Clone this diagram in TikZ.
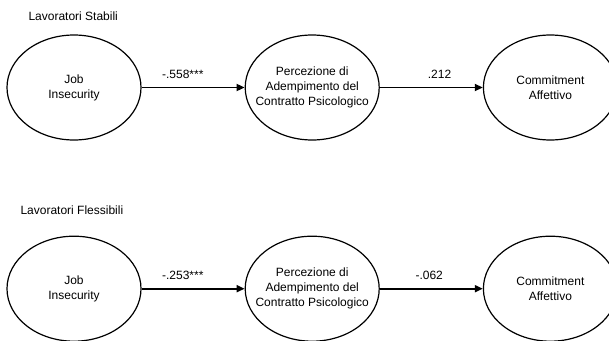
\documentclass[tikz,border=0pt]{standalone}
\usepackage{fontspec}
\setmainfont{Liberation Sans}
\usetikzlibrary{arrows.meta, positioning, shapes.geometric}

\begin{document}
\begin{tikzpicture}[
    x=1pt, y=-1pt,
    node distance=95pt and 103pt,
    >={Triangle[length=8pt, width=7pt]},
    every node/.style={font=\fontsize{12}{15}\selectfont},
    var/.style={ellipse, draw, line width=1.2pt, minimum width=134pt, minimum height=105pt, inner sep=0pt},
    vartext/.style={align=center},
    link/.style={->, line width=1.8pt},
    coef/.style={above=5pt},
    grouplabel/.style={anchor=west}
  ]
  \useasboundingbox (0,0) rectangle (609,340);

  % lavoratori stabili
  \node[grouplabel] (stab) at (25,16) {Lavoratori Stabili};
  \node[var, label={[vartext]center:Job\\Insecurity}] (ji1) at (74,87.5) {};
  \node[var, right=of ji1, label={[vartext]center:Percezione di\\Adempimento del\\Contratto Psicologico}] (pcp1) {};
  \node[var, right=of pcp1, label={[vartext]center:Commitment\\Affettivo}] (ca1) {};

  \draw[link] (ji1) -- node[coef, pos=0.4] {-.558***} (pcp1);
  \draw[link] (pcp1) -- node[coef, pos=0.58] {.212} (ca1);

  % lavoratori flessibili
  \node[grouplabel] (fles) at (17,210) {Lavoratori Flessibili};
  \node[var, below=of ji1, label={[vartext]center:Job\\Insecurity}] (ji2) {};
  \node[var, right=of ji2, label={[vartext]center:Percezione di\\Adempimento del\\Contratto Psicologico}] (pcp2) {};
  \node[var, right=of pcp2, label={[vartext]center:Commitment\\Affettivo}] (ca2) {};

  \draw[link] (ji2) -- node[coef, pos=0.4] {-.253***} (pcp2);
  \draw[link] (pcp2) -- node[coef, pos=0.48] {-.062} (ca2);

\end{tikzpicture}
\end{document}
